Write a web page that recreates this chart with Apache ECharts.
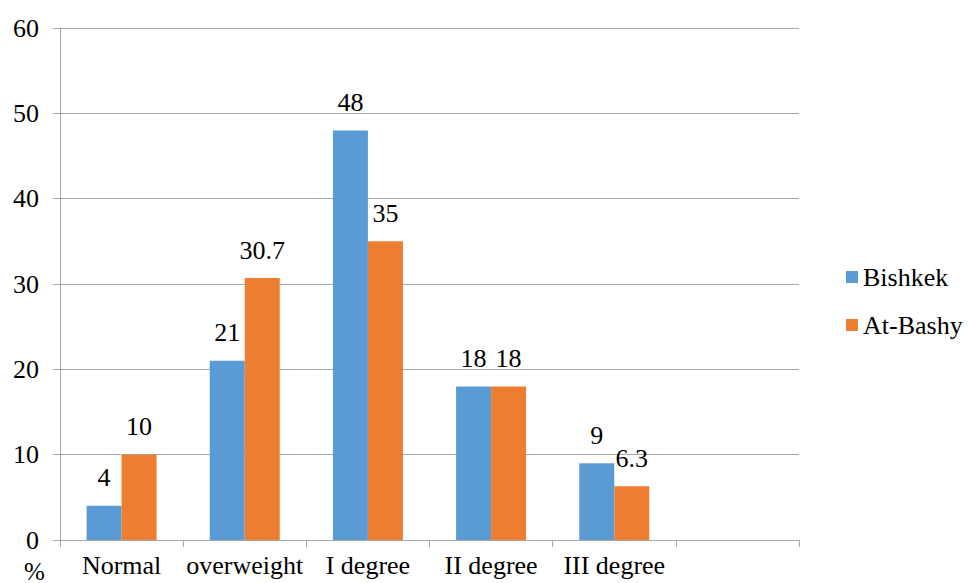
<!DOCTYPE html>
<html>
<head>
<meta charset="utf-8">
<script src="https://cdn.jsdelivr.net/npm/echarts@6/dist/echarts.min.js"></script>
<style>
  html, body { margin: 0; padding: 0; background: #fff; }
  #chart { width: 968px; height: 583px; }
</style>
</head>
<body>
<div id="chart"></div>
<script>
// Obesity categories (last slot is an empty category on the axis)
const categories = ['Normal', 'overweight', 'I degree', 'II degree', 'III degree', ''];
const bishkek = [4, 21, 48, 18, 9, null];
const atBashy = [10, 30.7, 35, 18, 6.3, null];
const yTicks = { min: 0, max: 60, interval: 10 };

const FONT = 'Liberation Serif';
const gray = '#a6a6a6';

const chart = echarts.init(document.getElementById('chart'), null, { renderer: 'svg' });

function label() {
  return {
    show: true,
    position: 'top',
    distance: 15,
    fontFamily: FONT,
    fontSize: 26,
    color: '#000'
  };
}

chart.setOption({
  animation: false,
  backgroundColor: '#fff',
  grid: { left: 60, right: 169, top: 28, bottom: 43, containLabel: false },
  legend: {
    orient: 'vertical',
    left: 841,
    top: 259,
    itemWidth: 12,
    itemHeight: 12,
    itemGap: 22,
    icon: 'rect',
    textStyle: { fontFamily: FONT, fontSize: 26, color: '#000' },
    data: ['Bishkek', 'At-Bashy']
  },
  xAxis: {
    type: 'category',
    data: categories,
    axisLine: { lineStyle: { color: gray, width: 1 } },
    axisTick: { show: true, alignWithLabel: false, length: 7, lineStyle: { color: gray } },
    axisLabel: { fontFamily: FONT, fontSize: 26, color: '#000', margin: 12, interval: 0 }
  },
  yAxis: {
    type: 'value',
    min: yTicks.min,
    max: yTicks.max,
    interval: yTicks.interval,
    axisLine: { show: true, lineStyle: { color: gray, width: 1 } },
    axisTick: { show: true, length: 7, lineStyle: { color: gray } },
    axisLabel: { fontFamily: FONT, fontSize: 26, color: '#000', margin: 21 },
    splitLine: { lineStyle: { color: gray, width: 1 } }
  },
  graphic: [{
    type: 'text',
    left: 24,
    top: 559,
    style: { text: '%', fontFamily: FONT, fontSize: 25, fill: '#000' }
  }],
  series: [
    {
      name: 'Bishkek',
      type: 'bar',
      data: bishkek,
      barWidth: 35,
      barGap: '0%',
      itemStyle: { color: '#5b9bd5' },
      label: label()
    },
    {
      name: 'At-Bashy',
      type: 'bar',
      data: atBashy,
      barWidth: 35,
      barGap: '0%',
      itemStyle: { color: '#ed7d31' },
      label: label()
    }
  ]
});
</script>
</body>
</html>
